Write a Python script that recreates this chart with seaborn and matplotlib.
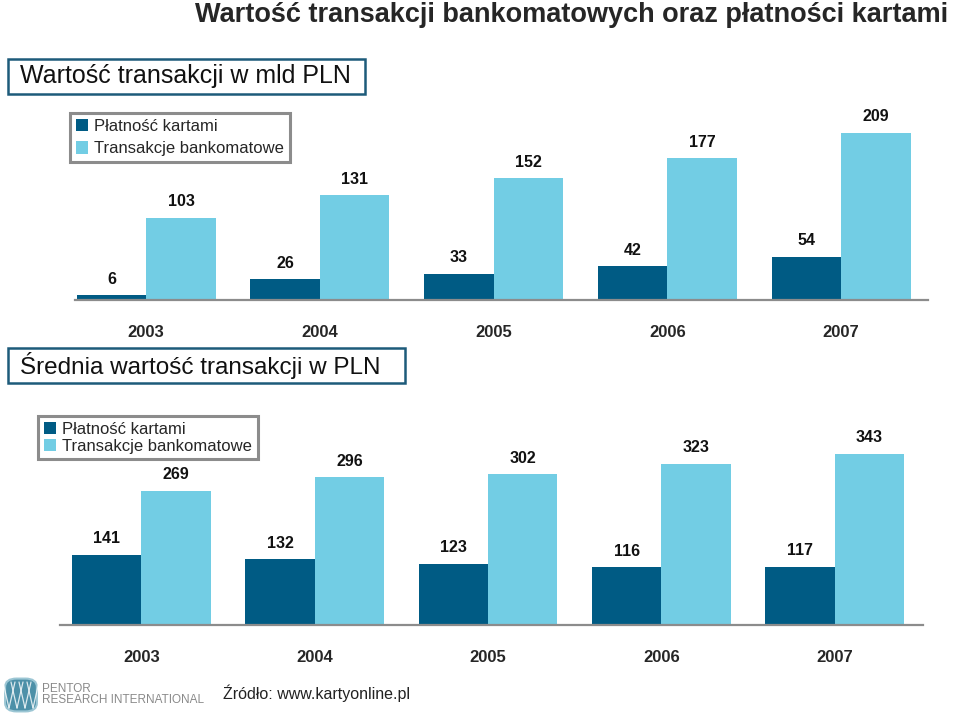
import pandas as pd
import seaborn as sns
import matplotlib.pyplot as plt
from matplotlib.patches import Patch, Rectangle, FancyBboxPatch

# --- dane ---
years = ['2003', '2004', '2005', '2006', '2007']
series = ['Płatność kartami', 'Transakcje bankomatowe']
value_cards = [6, 26, 33, 42, 54]          # mld PLN
value_atm = [103, 131, 152, 177, 209]      # mld PLN
avg_cards = [141, 132, 123, 116, 117]      # PLN
avg_atm = [269, 296, 302, 323, 343]        # PLN

colors = {series[0]: '#005b84', series[1]: '#72cde4'}

df_value = pd.DataFrame({
    'Rok': years * 2,
    'Seria': [series[0]] * 5 + [series[1]] * 5,
    'Wartość': value_cards + value_atm,
})
df_avg = pd.DataFrame({
    'Rok': years * 2,
    'Seria': [series[0]] * 5 + [series[1]] * 5,
    'Wartość': avg_cards + avg_atm,
})

sns.set_style('white')
plt.rcParams['font.family'] = ['Liberation Sans', 'DejaVu Sans']

W, H = 959, 715
fig = plt.figure(figsize=(W / 100, H / 100), dpi=100)
fig.set_facecolor('white')


def px_rect(x0, y0, x1, y1):
    # zamiana pikseli (od góry) na współrzędne figury
    return [x0 / W, 1 - y1 / H, (x1 - x0) / W, (y1 - y0) / H]


def draw_panel(ax, df, ylim, xlim):
    sns.barplot(data=df, x='Rok', y='Wartość', hue='Seria', palette=colors,
                width=0.8, saturation=1, linewidth=0, ax=ax, legend=False)
    for cont in ax.containers:
        ax.bar_label(cont, padding=6, fontsize=11.5, fontweight='bold', color='#111111')
    ax.set_ylim(*ylim)
    ax.set_xlim(*xlim)
    ax.set_xlabel('')
    ax.set_ylabel('')
    ax.set_yticks([])
    ax.tick_params(axis='x', length=0, pad=18, labelsize=12)
    for lab in ax.get_xticklabels():
        lab.set_fontweight('bold')
    for side in ['top', 'left', 'right']:
        ax.spines[side].set_visible(False)
    ax.spines['bottom'].set_color('#8c8c8c')
    ax.spines['bottom'].set_linewidth(1.6)
    ax.set_facecolor('none')


def legend_box(anchor, spacing):
    handles = [Patch(facecolor=colors[s], edgecolor='none') for s in series]
    leg = fig.legend(handles, series, loc='upper left', bbox_to_anchor=anchor,
                     fontsize=12, frameon=True, fancybox=False, handlelength=0.75,
                     handleheight=0.75, handletextpad=0.35, labelspacing=spacing,
                     borderpad=0.35, borderaxespad=0)
    leg.get_frame().set_edgecolor('#707070')
    leg.get_frame().set_linewidth(2.2)
    return leg


def title_box(x0, y0, x1, y1, text, size):
    fig.patches.append(Rectangle((x0 / W, 1 - y1 / H), (x1 - x0) / W, (y1 - y0) / H,
                                 transform=fig.transFigure, facecolor='white',
                                 edgecolor='#1d5b7a', linewidth=1.8))
    fig.text((x0 + 12) / W, 1 - (y0 + y1) / 2 / H, text, fontsize=size,
             va='center', ha='left', color='#111111')


# --- wykres górny ---
ax1 = fig.add_axes(px_rect(75, 100, 928, 300))
draw_panel(ax1, df_value, (0, 250), (-0.41, 4.5))

# --- wykres dolny ---
ax2 = fig.add_axes(px_rect(60, 425, 923, 625))
draw_panel(ax2, df_avg, (0, 400), (-0.47, 4.51))

legend_box((70 / W, 1 - 113 / H), 0.45)
legend_box((38 / W, 1 - 416 / H), 0.1)

# --- tytuły ---
fig.text(948 / W, 1 - 15 / H, 'Wartość transakcji bankomatowych oraz płatności kartami',
         fontsize=19.5, fontweight='bold', ha='right', va='center')
title_box(8, 59, 365, 94, 'Wartość transakcji w mld PLN', 18)
title_box(8, 348, 405, 383, 'Średnia wartość transakcji w PLN', 17.5)

# --- logo i źródło ---
fig.patches.append(FancyBboxPatch((7 / W, 1 - 710 / H), 28 / W, 30 / H,
                                  boxstyle='round,pad=0.002,rounding_size=0.012',
                                  transform=fig.transFigure, facecolor='#4d90a8',
                                  edgecolor='#9cc6d4', linewidth=1.5))
for k in range(4):
    fig.lines.append(plt.Line2D([(9 + 8 * k) / W, (15 + 8 * k) / W],
                                [1 - 708 / H, 1 - 682 / H], transform=fig.transFigure,
                                color='white', linewidth=0.9, alpha=0.8))
    fig.lines.append(plt.Line2D([(9 + 8 * k) / W, (3 + 8 * k) / W],
                                [1 - 708 / H, 1 - 682 / H], transform=fig.transFigure,
                                color='white', linewidth=0.9, alpha=0.8))
fig.text(42 / W, 1 - 689 / H, 'PENTOR', fontsize=8.5, color='#8a8a8a', va='center')
fig.text(42 / W, 1 - 700 / H, 'RESEARCH INTERNATIONAL', fontsize=8.5,
         color='#8a8a8a', va='center')
fig.text(223 / W, 1 - 693 / H, 'Źródło: www.kartyonline.pl', fontsize=11.5,
         color='#222222', va='center', ha='left')

fig.savefig('out.png', dpi=100, facecolor='white')
